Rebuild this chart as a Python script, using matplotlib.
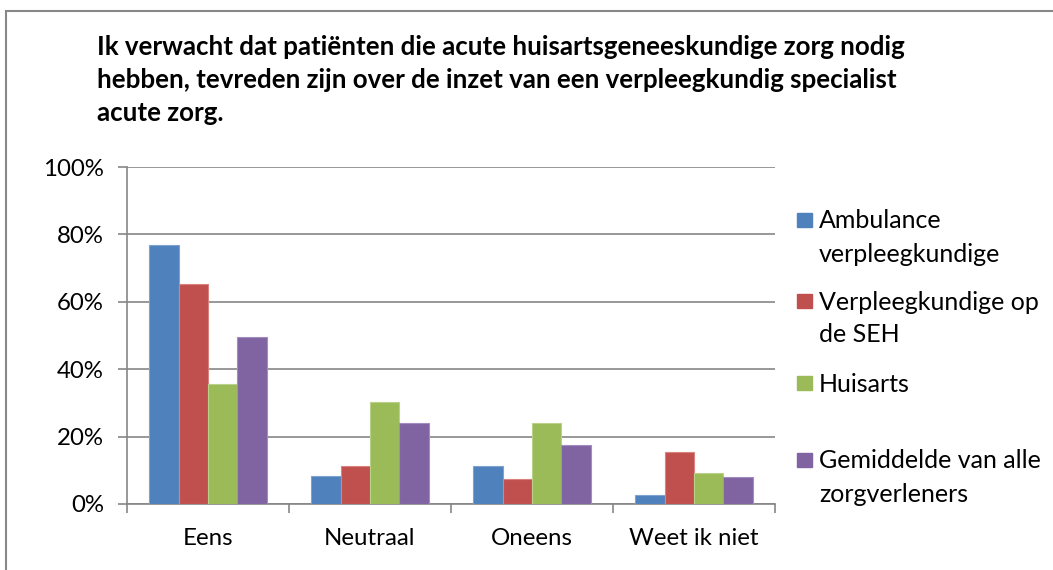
import matplotlib
matplotlib.use("Agg")
import matplotlib.pyplot as plt
import numpy as np
from matplotlib.patches import Rectangle

categories = ["Eens", "Neutraal", "Oneens", "Weet ik niet"]
series = [
    "Ambulance\nverpleegkundige",
    "Verpleegkundige op\nde SEH",
    "Huisarts",
    "Gemiddelde van alle\nzorgverleners",
]
ambulance = [76.9, 8.4, 11.2, 2.7]
seh = [65.3, 11.4, 7.5, 15.3]
huisarts = [35.6, 30.4, 24.0, 9.2]
gemiddelde = [49.7, 23.9, 17.5, 8.1]
colors = ["#4F81BD", "#C0504D", "#9BBB59", "#8064A2"]
edges = ["#7FA3D1", "#D98280", "#BAD18A", "#A38CC0"]
yticks = [0, 20, 40, 60, 80, 100]
title_lines = [
    "Ik verwacht dat patiënten die acute huisartsgeneeskundige zorg nodig",
    "hebben, tevreden zijn over de inzet van een verpleegkundig specialist",
    "acute zorg.",
]

plt.rcParams["font.family"] = ["Lato", "DejaVu Sans"]
W, H = 1053, 570
fs = 17.3

fig = plt.figure(figsize=(W / 100, H / 100), dpi=100)
ax = fig.add_axes([127 / W, 1 - 504 / H, (775 - 127) / W, (504 - 167) / H])

x = np.arange(len(categories))
w = 0.181
for i, vals in enumerate([ambulance, seh, huisarts, gemiddelde]):
    ax.bar(x + (i - 1.5) * w, vals, w, color=colors[i], edgecolor=edges[i],
           linewidth=0.8, label=series[i], zorder=3)

ax.set_xlim(-0.5, 3.5)
ax.set_ylim(0, 100)
ax.set_yticks(yticks)
ax.set_yticklabels([f"{v}%" for v in yticks], fontsize=fs)
ax.yaxis.grid(True, color="#868686", linewidth=1.2, zorder=0)
ax.set_xticks(np.arange(-0.5, 4, 1))
ax.set_xticklabels([])
ax.set_xticks(x, minor=True)
ax.set_xticklabels(categories, minor=True, fontsize=fs)
ax.tick_params(axis="x", which="minor", length=0, pad=17)
ax.tick_params(axis="x", which="major", length=6.5, color="#868686", width=1.2)
ax.tick_params(axis="y", length=6.5, color="#868686", width=1.2, pad=10)
for s in ["top", "right"]:
    ax.spines[s].set_visible(False)
for s in ["left", "bottom"]:
    ax.spines[s].set_color("#868686")
    ax.spines[s].set_linewidth(1.2)

# legend, drawn by hand to follow the Excel layout
leg_y = [220, 301, 383, 460]
for i, lab in enumerate(series):
    y0 = leg_y[i]
    fig.patches.append(Rectangle((797 / W, 1 - (y0 + 7) / H), 15 / W, 14 / H,
                                 transform=fig.transFigure, color=colors[i]))
    for j, line in enumerate(lab.split("\n")):
        fig.text(819 / W, 1 - (y0 + 33 * j + 1) / H, line, fontsize=18,
                 ha="left", va="center")

for j, line in enumerate(title_lines):
    fig.text(97 / W, 1 - (47 + 33 * j) / H, line, fontsize=18.6,
             fontweight="bold", ha="left", va="center")

fig.patches.append(Rectangle((6 / W, -0.1), 1.2, 1.1 - 11 / H,
                             transform=fig.transFigure, fill=False,
                             edgecolor="#888888", linewidth=1.5))

fig.savefig("out.png", dpi=100)
